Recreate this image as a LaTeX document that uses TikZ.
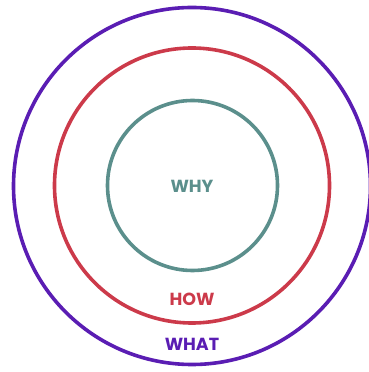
\documentclass[tikz,border=0pt]{standalone}
\usepackage{fontspec}
\setmainfont{Poppins}
\definecolor{cwhat}{HTML}{5A1DB3}
\definecolor{chow}{HTML}{CC3A4A}
\definecolor{cwhy}{HTML}{5B8F8C}
\begin{document}
\begin{tikzpicture}[x=1pt,y=1pt,
  ring/.style={draw, line width=3.6pt, circle, inner sep=0pt},
  lbl/.style={font=\fontsize{17.5}{20}\selectfont\bfseries}]
\useasboundingbox (0,0) rectangle (368,372);
\node[ring, draw=cwhat, minimum size=357] (what) at (192,186) {};
\node[ring, draw=chow, minimum size=275] (how) at (192,186.5) {};
\node[ring, draw=cwhy, minimum size=170] (why) at (192.5,186.5) {};
\node[lbl, text=cwhy] (twhy) at (192,186) {WHY};
\node[lbl, text=chow] (thow) at (192,72.5) {HOW};
\node[lbl, text=cwhat] (twhat) at (192,28) {WHAT};
\end{tikzpicture}
\end{document}
